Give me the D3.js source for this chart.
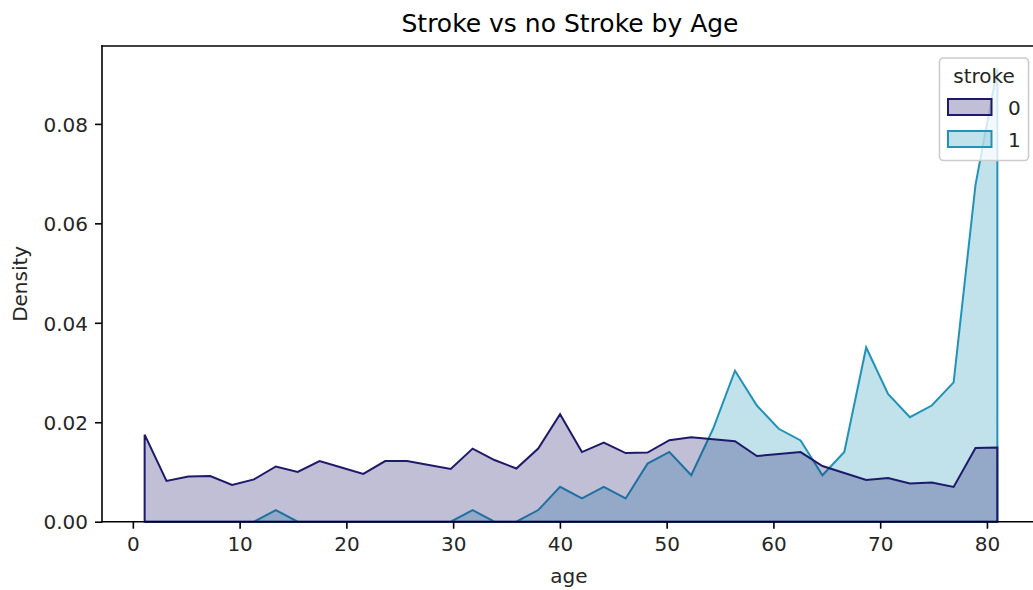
<!DOCTYPE html>
<html>
<head>
<meta charset="utf-8">
<script src="https://cdn.jsdelivr.net/npm/d3@7"></script>
<style>
  html, body { margin: 0; padding: 0; background: #fff; }
  svg { display: block; font-family: "DejaVu Sans", sans-serif; }
</style>
</head>
<body>
<svg id="chart" width="1033" height="590"></svg>
<script>
// Histogram bins over age (40 equal-width bins)
const ageMin = 0.08;
const ageMax = 82;
const binCount = 40;

// Density per bin, stroke = 0
const noStrokeDensity = [
  0.0175, 0.0082, 0.0091, 0.0092, 0.0074, 0.0085, 0.0111, 0.0100, 0.0122, 0.0109,
  0.0096, 0.0122, 0.0122, 0.0114, 0.0106, 0.0147, 0.0124, 0.0107, 0.0147, 0.0216,
  0.0140, 0.0159, 0.0138, 0.0139, 0.0164, 0.0170, 0.0166, 0.0162, 0.0132, 0.0136,
  0.0140, 0.0112, 0.0098, 0.0084, 0.0088, 0.0077, 0.0079, 0.0070, 0.0148, 0.0149
];

// Density per bin, stroke = 1
const strokeDensity = [
  0, 0, 0, 0, 0, 0, 0.00234, 0, 0, 0,
  0, 0, 0, 0, 0, 0.00234, 0, 0, 0.00234, 0.00701,
  0.00467, 0.00701, 0.00467, 0.01168, 0.01402, 0.00934, 0.01869, 0.03037, 0.02336, 0.01869,
  0.01635, 0.00934, 0.01402, 0.03504, 0.02570, 0.02102, 0.02336, 0.02803, 0.06775, 0.09111
];

const xTicks = [0, 10, 20, 30, 40, 50, 60, 70, 80];
const yTicks = [0, 0.02, 0.04, 0.06, 0.08];
const legendTitle = "stroke";
const legendLabels = ["0", "1"];

const binWidth = (ageMax - ageMin) / binCount;
const centers = d3.range(binCount).map(i => ageMin + binWidth * (i + 0.5));

const series = [
  { key: "1", values: strokeDensity, color: "#2193b8" },
  { key: "0", values: noStrokeDensity, color: "#1d1a6b" }
];

const svg = d3.select("#chart");
const plot = { left: 102, top: 46, right: 1040, bottom: 521.7 };

// 5% margins on x, sticky zero on y with 5% headroom
const xMin = d3.min(centers), xMax = d3.max(centers);
const xPad = (xMax - xMin) * 0.05;
const x = d3.scaleLinear().domain([xMin - xPad, xMax + xPad]).range([plot.left, plot.right]);
const yMax = d3.max([...noStrokeDensity, ...strokeDensity]);
const y = d3.scaleLinear().domain([0, yMax * 1.05]).range([plot.bottom, plot.top]);

const fillAlpha = 0.28;
const area = d3.area().x(d => x(d[0])).y0(y(0)).y1(d => y(d[1]));

// Filled polygons (stroke=1 underneath, stroke=0 on top)
series.forEach(s => {
  const pts = centers.map((c, i) => [c, s.values[i]]);
  svg.append("path")
    .attr("d", area(pts))
    .attr("fill", s.color)
    .attr("fill-opacity", fillAlpha)
    .attr("stroke", s.color)
    .attr("stroke-width", 2)
    .attr("stroke-linejoin", "miter");
});

// Axes
const xAxis = d3.axisBottom(x).tickValues(xTicks).tickSize(7).tickPadding(7).tickFormat(d3.format("d"));
const yAxis = d3.axisLeft(y).tickValues(yTicks).tickSize(7).tickPadding(7).tickFormat(d3.format(".2f"));

const gx = svg.append("g").attr("transform", `translate(0,${plot.bottom})`).call(xAxis);
const gy = svg.append("g").attr("transform", `translate(${plot.left},0)`).call(yAxis);

[gx, gy].forEach(g => {
  g.select(".domain").remove();
  g.selectAll(".tick line").attr("stroke", "#000").attr("stroke-width", 1.6);
  g.selectAll(".tick text").attr("fill", "#262626").attr("font-size", 20)
    .attr("font-family", "DejaVu Sans, sans-serif");
});
gx.selectAll(".tick text").attr("dy", "0.76em");
gy.selectAll(".tick text").attr("dy", "0.36em");

// Spines (left, bottom, top; right falls outside the canvas)
svg.append("line").attr("x1", plot.left).attr("x2", plot.left).attr("y1", plot.top).attr("y2", plot.bottom)
  .attr("stroke", "#000").attr("stroke-width", 1.6).attr("stroke-linecap", "square");
svg.append("line").attr("x1", plot.left).attr("x2", plot.right).attr("y1", plot.bottom).attr("y2", plot.bottom)
  .attr("stroke", "#000").attr("stroke-width", 1.6).attr("stroke-linecap", "square");
svg.append("line").attr("x1", plot.left).attr("x2", plot.right).attr("y1", plot.top).attr("y2", plot.top)
  .attr("stroke", "#000").attr("stroke-width", 1.6).attr("stroke-linecap", "square");

// Labels and title
const cx = (plot.left + plot.right) / 2;
svg.append("text").attr("x", cx - 1).attr("y", 32).attr("text-anchor", "middle")
  .attr("font-size", 25).attr("fill", "#000").text("Stroke vs no Stroke by Age");
svg.append("text").attr("x", cx - 2).attr("y", 583).attr("text-anchor", "middle")
  .attr("font-size", 20).attr("fill", "#262626").text("age");
svg.append("text")
  .attr("transform", `translate(27,${(plot.top + plot.bottom) / 2}) rotate(-90)`)
  .attr("text-anchor", "middle").attr("font-size", 20).attr("fill", "#262626").text("Density");

// Legend
const lg = svg.append("g");
lg.append("rect").attr("x", 939.5).attr("y", 58).attr("width", 89).attr("height", 102.5)
  .attr("rx", 4).attr("fill", "#fff").attr("fill-opacity", 0.8)
  .attr("stroke", "#cccccc").attr("stroke-width", 1.6);
lg.append("text").attr("x", 984).attr("y", 83).attr("text-anchor", "middle")
  .attr("font-size", 20).attr("fill", "#262626").text(legendTitle);
const legendColors = [series[1].color, series[0].color];
legendLabels.forEach((lab, i) => {
  const yy = 99 + i * 32;
  lg.append("rect").attr("x", 948).attr("y", yy).attr("width", 43.5).attr("height", 16)
    .attr("fill", legendColors[i]).attr("fill-opacity", fillAlpha)
    .attr("stroke", legendColors[i]).attr("stroke-width", 2);
  lg.append("text").attr("x", 1008).attr("y", yy + 15.5)
    .attr("font-size", 20).attr("fill", "#262626").text(lab);
});
</script>
</body>
</html>
